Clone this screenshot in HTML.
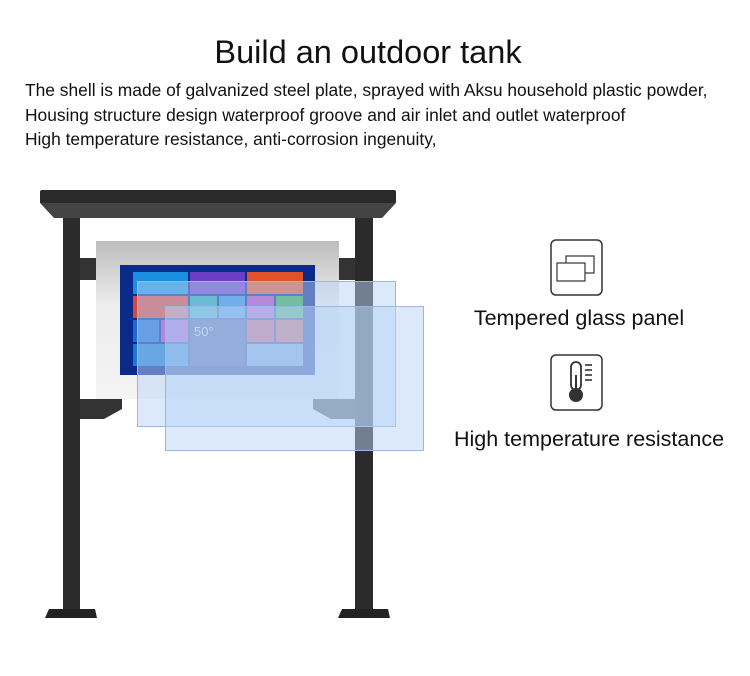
<!DOCTYPE html>
<html><head><style>
body{margin:0;width:750px;height:671px;background:#fff;overflow:hidden;font-family:"Liberation Sans",sans-serif;}
</style></head><body>
<svg width="750" height="671" xmlns="http://www.w3.org/2000/svg" font-family="Liberation Sans, sans-serif">
<text x="368" y="63" font-size="32.5" text-anchor="middle" fill="#111">Build an outdoor tank</text>
<g font-size="17.4" fill="#111">
<text x="25" y="96">The shell is made of galvanized steel plate, sprayed with Aksu household plastic powder,</text>
<text x="25" y="121">Housing structure design waterproof groove and air inlet and outlet waterproof</text>
<text x="25" y="145">High temperature resistance, anti-corrosion ingenuity,</text>
</g>
<!-- posts -->
<rect x="63" y="205" width="17" height="410" fill="#2b2b2b"/>
<rect x="355" y="205" width="18" height="410" fill="#2b2b2b"/>
<polygon points="49,609 95,609 97,618 45,618" fill="#222"/>
<polygon points="342,609 388,609 390,618 338,618" fill="#222"/>
<!-- roof -->
<polygon points="42,190 393,190 396,203 382,218 54,218 40,203" fill="#444"/>
<rect x="40" y="190" width="356" height="13" fill="#2a2a2a" rx="2"/>
<!-- arms -->
<rect x="80" y="258" width="16" height="22" fill="#333"/>
<rect x="339" y="258" width="16" height="22" fill="#333"/>
<polygon points="80,399 122,399 122,409 104,419 80,419" fill="#333"/>
<polygon points="355,399 313,399 313,409 331,419 355,419" fill="#333"/>
<!-- panel -->
<defs><linearGradient id="g" x1="0" y1="0" x2="0" y2="1"><stop offset="0" stop-color="#bdbdbd"/><stop offset="0.4" stop-color="#ececec"/><stop offset="1" stop-color="#f4f4f4"/></linearGradient></defs>
<rect x="96" y="241" width="243" height="158" fill="url(#g)"/>
<rect x="120" y="265" width="195" height="110" fill="#0c2a8a"/>
<g>
<rect x="133" y="272" width="55" height="22" fill="#1a8ee0"/>
<rect x="190" y="272" width="55" height="22" fill="#6a3fc8"/>
<rect x="247" y="272" width="56" height="22" fill="#e0532a"/>
<rect x="133" y="296" width="55" height="22" fill="#d9453d"/>
<rect x="190" y="296" width="27" height="22" fill="#1aa3b5"/>
<rect x="219" y="296" width="26" height="22" fill="#2a8be0"/>
<rect x="247" y="296" width="27" height="22" fill="#b03fc0"/>
<rect x="276" y="296" width="27" height="22" fill="#2ea84a"/>
<rect x="133" y="320" width="26" height="22" fill="#1a6ad0"/>
<rect x="161" y="320" width="27" height="22" fill="#a03dc8"/>
<rect x="190" y="320" width="55" height="46" fill="#2a3a80"/>
<rect x="247" y="320" width="27" height="22" fill="#d03a4a"/>
<rect x="276" y="320" width="27" height="22" fill="#d04a3a"/>
<rect x="133" y="344" width="55" height="22" fill="#1a78d0"/>
<rect x="247" y="344" width="56" height="22" fill="#6a9ad0"/>
<text x="194" y="336" font-size="13" fill="#ddd">50°</text>
</g>
<!-- glass -->
<rect x="137.5" y="281.5" width="258" height="145" fill="#b8d4f8" fill-opacity="0.5" stroke="#9ab8e0"/>
<rect x="165.5" y="306.5" width="258" height="144" fill="#b8d4f8" fill-opacity="0.5" stroke="#9ab8e0"/>
<!-- icons -->
<rect x="551" y="240" width="51" height="55" rx="5" fill="#fff" stroke="#333" stroke-width="1.5"/>
<rect x="566" y="256" width="28" height="17" fill="#fff" stroke="#333" stroke-width="1.2"/>
<rect x="557" y="263" width="28" height="18" fill="#fff" stroke="#333" stroke-width="1.2"/>
<text x="579" y="325" font-size="21.5" text-anchor="middle" fill="#111">Tempered glass panel</text>
<rect x="551" y="355" width="51" height="55" rx="5" fill="#fff" stroke="#333" stroke-width="1.5"/>
<rect x="571" y="362" width="10" height="28" rx="5" fill="#fff" stroke="#333" stroke-width="1.8"/>
<rect x="575" y="375" width="2" height="15" fill="#333"/>
<circle cx="576" cy="395" r="7" fill="#333"/>
<g stroke="#333" stroke-width="1.6"><line x1="585" y1="365" x2="592" y2="365"/><line x1="585" y1="370" x2="592" y2="370"/><line x1="585" y1="375" x2="592" y2="375"/><line x1="585" y1="380" x2="592" y2="380"/></g>
<text x="589" y="446" font-size="21.5" text-anchor="middle" fill="#111">High temperature resistance</text>
</svg>
</body></html>
